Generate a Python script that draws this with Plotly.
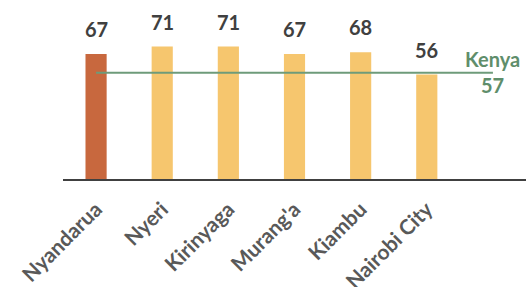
import plotly.graph_objects as go

categories = ["Nyandarua", "Nyeri", "Kirinyaga", "Murang'a", "Kiambu", "Nairobi City"]
values = [67, 71, 71, 67, 68, 56]
kenya_label = "Kenya"
kenya_value = 57

bar_colors = ["#C8683E"] + ["#F6C66E"] * (len(categories) - 1)
x_idx = list(range(len(categories)))

fig = go.Figure()
fig.add_trace(go.Bar(
    x=x_idx, y=values, width=0.32,
    marker=dict(color=bar_colors, line=dict(width=0)),
    hoverinfo="skip", showlegend=False,
))
fig.add_trace(go.Scatter(
    x=[0, len(categories)], y=[kenya_value, kenya_value],
    mode="lines", line=dict(color="#6E9B7A", width=2),
    hoverinfo="skip", showlegend=False,
))

for i, v in enumerate(values):
    fig.add_annotation(x=i, y=v, text=str(v), showarrow=False,
                       yanchor="bottom", yshift=11,
                       font=dict(family="Lato", size=20, color="#404040", weight="bold"))

fig.add_annotation(x=len(categories), y=kenya_value, text=f"{kenya_label}<br>{kenya_value}",
                   showarrow=False, yanchor="middle", xanchor="center", yshift=1,
                   font=dict(family="Lato", size=20, color="#5F8E6B", weight="bold"))

fig.update_layout(
    width=526, height=287,
    margin=dict(l=63, r=0, t=2, b=108, autoexpand=False),
    paper_bgcolor="white", plot_bgcolor="white",
    xaxis=dict(
        range=[-0.5, len(categories) + 0.5],
        tickmode="array", tickvals=x_idx, ticktext=categories,
        tickangle=-45, showgrid=False, zeroline=False, automargin=False,
        showline=True, linecolor="#404040", linewidth=1.5,
        ticks="", ticklabelstandoff=8,
        tickfont=dict(family="Lato", size=21, color="#595959", weight="bold"),
    ),
    yaxis=dict(range=[0, 94.9], visible=False, showgrid=False, zeroline=False),
)

fig.write_html("out.html", config={"displayModeBar": False},
               post_script="document.body.style.margin='0';document.body.style.padding='0';")
